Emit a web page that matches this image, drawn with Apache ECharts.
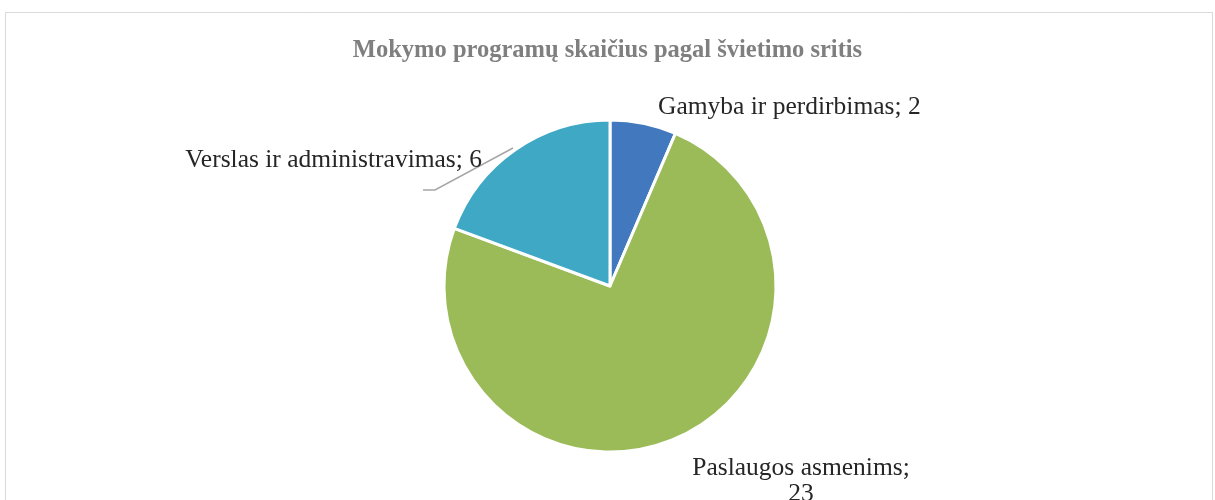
<!DOCTYPE html>
<html>
<head>
<meta charset="utf-8">
<script src="https://cdn.jsdelivr.net/npm/echarts@6/dist/echarts.min.js"></script>
<style>
  html, body { margin: 0; padding: 0; background: #fff; }
  #chart { width: 1215px; height: 500px; }
</style>
</head>
<body>
<div id="chart"></div>
<script>
const categories = ['Gamyba ir perdirbimas', 'Paslaugos asmenims', 'Verslas ir administravimas']
const values = [2, 23, 6]
const colors = ['#4178be', '#9bbb59', '#3fa9c5']

// where Excel put each data label (label anchor, align)
const labelSpots = [
  { x: 658, y: 107, align: 'left' },
  { x: 801, y: 481, align: 'center' },
  { x: 482, y: 160, align: 'right' }
]

const chart = echarts.init(document.getElementById('chart'))

chart.setOption({
  animation: false,
  title: {
    text: 'Mokymo programų skaičius pagal švietimo sritis',
    left: 'center',
    top: 33,
    textStyle: {
      fontFamily: 'Liberation Serif',
      fontSize: 24.5,
      fontWeight: 'bold',
      color: '#7f7f7f'
    }
  },
  graphic: [{
    type: 'rect',
    shape: { x: 5.5, y: 12.5, width: 1207, height: 600 },
    style: { fill: 'none', stroke: '#d9d9d9', lineWidth: 1 },
    silent: true
  }],
  series: [{
    type: 'pie',
    center: [610, 286],
    radius: 166,
    startAngle: 90,
    clockwise: true,
    itemStyle: { borderColor: '#fff', borderWidth: 3 },
    label: {
      show: true,
      formatter: p => p.name + '; ' + p.value,
      fontFamily: 'Liberation Serif',
      fontSize: 25.5,
      color: '#262626',
      lineHeight: 26
    },
    labelLine: {
      show: true,
      lineStyle: { color: '#a6a6a6', width: 1.5 }
    },
    labelLayout: p => {
      const s = labelSpots[p.dataIndex]
      const out = { x: s.x, y: s.y, align: s.align, verticalAlign: 'middle' }
      if (p.dataIndex === 2) {
        out.labelLinePoints = [[513, 148], [435, 190], [423, 190]]
      } else {
        out.labelLinePoints = [[0, 0], [0, 0], [0, 0]]
      }
      return out
    },
    data: categories.map((c, i) => {
      const item = { name: c, value: values[i], itemStyle: { color: colors[i] } }
      if (i === 1) {
        item.label = { formatter: p => p.name + ';\n' + p.value, align: 'center' }
        item.labelLine = { show: false }
      }
      if (i === 0) item.labelLine = { show: false }
      return item
    })
  }]
})
</script>
</body>
</html>
